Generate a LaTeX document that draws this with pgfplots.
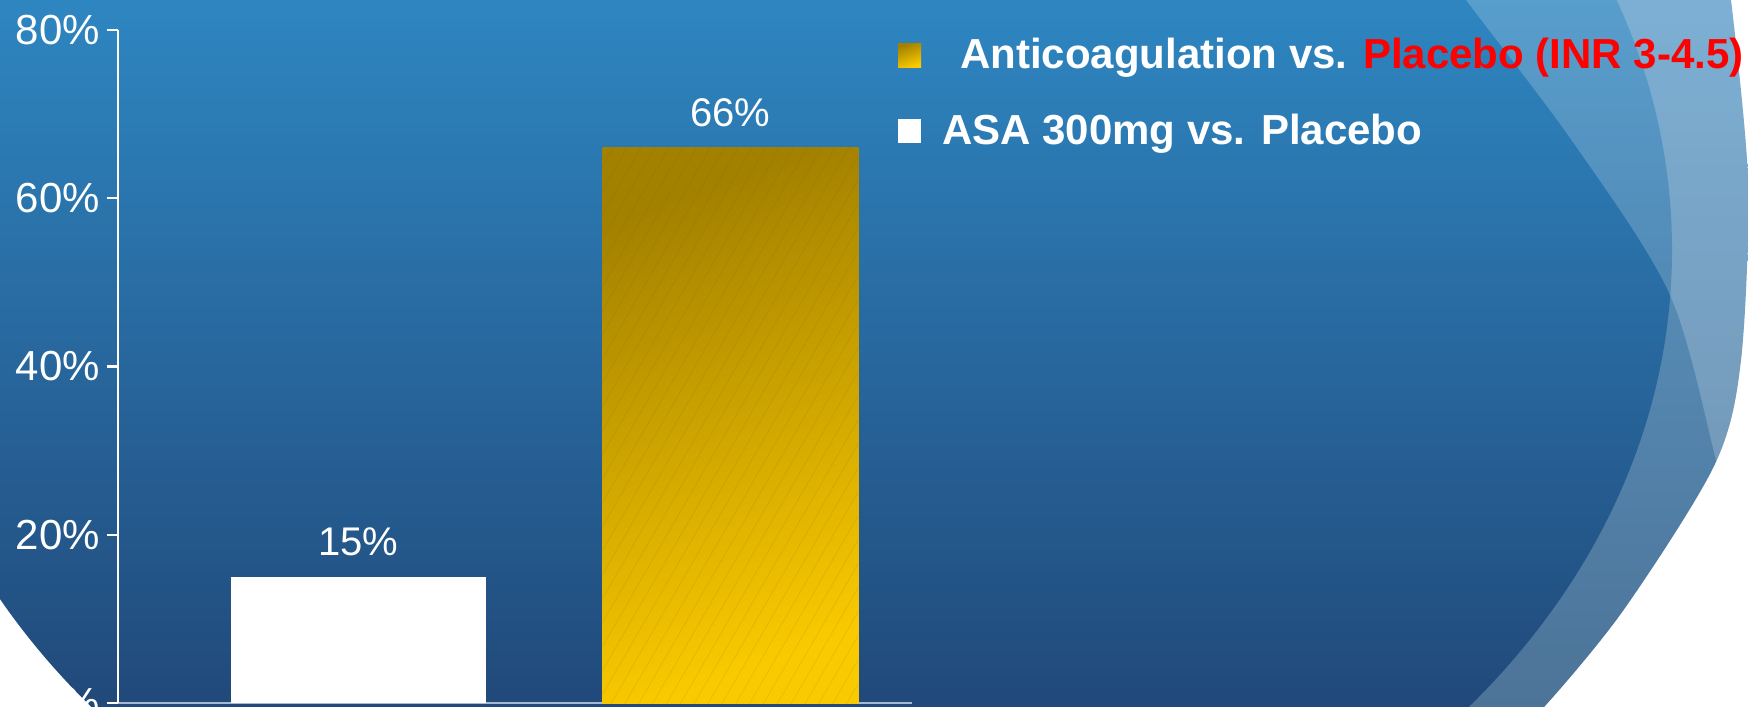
\documentclass[border=0pt]{standalone}
\usepackage{pgfplots}
\pgfplotsset{compat=1.18}
\usepackage{pgfplotstable}
\usetikzlibrary{patterns.meta}
\usepackage{fontspec}
\setmainfont{Liberation Sans}

\definecolor{slidetop}{RGB}{46,134,193}
\definecolor{slidebot}{RGB}{33,73,122}
\definecolor{swooshtop}{RGB}{92,156,201}
\definecolor{swooshbot}{RGB}{77,115,152}
\definecolor{golddark}{RGB}{162,128,0}
\definecolor{goldlight}{RGB}{250,202,0}
\definecolor{baseline}{RGB}{165,185,210}
\definecolor{placeboRed}{RGB}{255,0,0}

% stroke risk reduction, one row per comparison
\pgfplotstableread{
pos value
1   66
}\anticoag
\pgfplotstableread{
pos value
0   15
}\aspirin

\begin{document}
\begin{tikzpicture}
\path[use as bounding box] (0,0) rectangle (874pt,353pt);
\clip (0,0) rectangle (874pt,353pt);

% slide background: one unit = half a point
\begin{scope}[x=0.5pt,y=0.5pt]
  \fill[white] (0,0) rectangle (1748,706);
  % back swoosh on the right
  \begin{scope}
    \clip (1200,-40) -- (1200,760) -- (1725,760)
      -- plot[smooth] coordinates {(1731,706) (1748,526) (1741,346) (1715,242) (1625,98) (1545,0) (1500,-40)}
      -- cycle;
    \shade[top color=swooshtop,bottom color=swooshbot] (1200,0) rectangle (1748,706);
  \end{scope}
  % main oval
  \begin{scope}
    \clip (780,456) ellipse [x radius=892, y radius=719];
    \shade[top color=slidetop,bottom color=slidebot] (0,0) rectangle (1748,706);
  \end{scope}
  % light sheen over the right edge
  \fill[white, opacity=0.2]
    plot[smooth] coordinates {(1445,735) (1466,706) (1575,561) (1670,411) (1717,242) (1752,100)}
    -- (1800,100) -- (1800,760) -- (1445,760) -- cycle;
\end{scope}

\begin{axis}[
  at={(59pt,1.5pt)}, anchor=south west,
  scale only axis, width=397pt, height=336.5pt,
  xmin=-0.6465, xmax=1.488, ymin=0, ymax=80,
  axis lines*=left,
  x axis line style={draw=baseline, line width=1pt},
  y axis line style={draw=white, line width=1.2pt},
  xtick=\empty,
  ytick={0,20,40,60,80},
  tick align=outside, major tick length=5.5pt,
  ytick style={draw=white, line width=1.2pt},
  yticklabel={\pgfmathprintnumber{\tick}\%},
  /pgf/number format/assume math mode=true,
  ticklabel style={font=\fontsize{21}{25}\selectfont, text=white},
  clip=false,
  bar width=0.688,
  legend style={at={(axis description cs:0.982,0.994)}, anchor=north west,
    draw=none, fill=none, font=\bfseries\fontsize{21}{25}\selectfont,
    text=white, row sep=17pt, inner sep=0pt, cells={anchor=west},
    /tikz/every odd column/.append style={column sep=8.5pt}},
  legend image code/.code={\fill[#1] (0pt,-6pt) rectangle (11.5pt,6pt);},
  every node near coord/.append style={font=\fontsize{20}{24}\selectfont, text=white, yshift=7pt},
]
\addplot[ybar, bar shift=0pt, draw=none, top color=golddark, bottom color=goldlight, shading angle=20,
  nodes near coords={\pgfmathprintnumber{\pgfplotspointmeta}\%}]
  table[x=pos, y=value] {\anticoag};
\addlegendentry{\hspace{9pt}Anticoagulation vs. \textcolor{placeboRed}{Placebo (INR 3-4.5)}}
\addplot[ybar, bar shift=0pt, draw=none, forget plot,
  pattern={Lines[angle=60, distance=6pt, line width=0.3pt]}, pattern color=golddark!70!black, opacity=0.15]
  table[x=pos, y=value] {\anticoag};
\addplot[ybar, bar shift=0pt, draw=none, fill=white,
  nodes near coords={\pgfmathprintnumber{\pgfplotspointmeta}\%}]
  table[x=pos, y=value] {\aspirin};
\addlegendentry{ASA 300mg vs. Placebo}
\end{axis}
\end{tikzpicture}
\end{document}
